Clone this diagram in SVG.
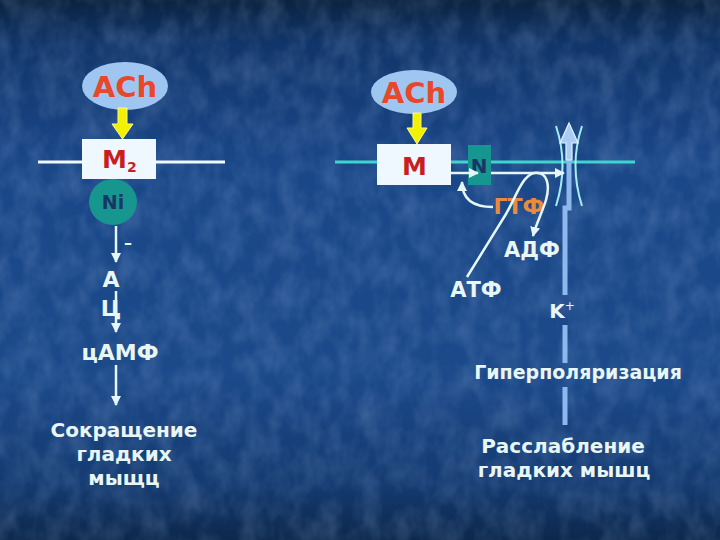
<svg xmlns="http://www.w3.org/2000/svg" width="720" height="540" viewBox="0 0 720 540">
<defs>
<linearGradient id="bg" x1="0" y1="0" x2="0" y2="1">
<stop offset="0" stop-color="#0a2340"/>
<stop offset="0.08" stop-color="#11356a"/>
<stop offset="0.3" stop-color="#1a4788"/>
<stop offset="0.7" stop-color="#1b4989"/>
<stop offset="0.9" stop-color="#143a70"/>
<stop offset="1" stop-color="#0c284c"/>
</linearGradient>
<filter id="tex" x="0" y="0" width="100%" height="100%">
<feTurbulence type="fractalNoise" baseFrequency="0.05 0.035" numOctaves="3" seed="7"/>
<feColorMatrix type="matrix" values="0 0 0 0 0.55  0 0 0 0 0.7  0 0 0 0 1  0 0 0 0.3 -0.1"/>
</filter>
<marker id="ah" viewBox="0 0 10 10" refX="9" refY="5" markerWidth="4" markerHeight="4" orient="auto" markerUnits="strokeWidth">
<path d="M0,0 L10,5 L0,10 z" fill="#e4f6f6"/>
</marker>
<style>
.t{font-family:"DejaVu Sans",sans-serif;font-weight:bold;fill:#e8f6f6;text-anchor:middle}
.ach{font-family:"DejaVu Sans",sans-serif;font-weight:bold;fill:#e8472a;font-size:29px;text-anchor:middle}
.m{font-family:"DejaVu Sans",sans-serif;font-weight:bold;fill:#c81e1e;font-size:25px}
.nav{font-family:"DejaVu Sans",sans-serif;font-weight:bold;fill:#1a3568;text-anchor:middle}
.ln{stroke:#e4f6f6;stroke-width:2.5;fill:none}
.ell{fill:#9fc6f0}
.box{fill:#f0f8ff}
.teal{fill:#17968f}
.yel{fill:#f2f200;stroke:#fafa90;stroke-width:1}
</style>
</defs>
<rect width="720" height="540" fill="url(#bg)"/>
<rect width="720" height="540" filter="url(#tex)"/>

<!-- membranes -->
<line x1="38" y1="162" x2="225" y2="162" stroke="#f0f8ff" stroke-width="3"/>
<line x1="335" y1="162" x2="635" y2="162" stroke="#40d4d0" stroke-width="3"/>

<!-- left side nodes -->
<g id="ach-left">
<ellipse class="ell" cx="125" cy="86" rx="43" ry="24"/>
<text class="ach" x="125" y="97">ACh</text>
</g>
<g id="m2">
<rect class="box" x="82" y="139" width="74" height="40"/>
<text class="m" x="102" y="168">M<tspan font-size="14" dy="4">2</tspan></text>
</g>
<g id="ni">
<ellipse class="teal" cx="113" cy="202" rx="24" ry="23"/>
<text class="nav" x="113" y="209" font-size="19">Ni</text>
</g>
<g id="ac">
<text class="t" x="111" y="287" font-size="22">А</text>
<text class="t" x="111" y="316" font-size="22">Ц</text>
</g>
<g id="camp"><text class="t" x="120" y="360" font-size="22">цАМФ</text></g>
<g id="contraction">
<text class="t" x="124" y="437" font-size="20">Сокращение</text>
<text class="t" x="124" y="461" font-size="20">гладких</text>
<text class="t" x="124" y="485" font-size="20">мыщц</text>
</g>
<text class="t" x="128" y="248" font-size="16">–</text>

<!-- right side nodes -->
<g id="ach-right">
<ellipse class="ell" cx="414" cy="92" rx="43" ry="22"/>
<text class="ach" x="414" y="103">ACh</text>
</g>
<g id="m">
<rect class="box" x="377" y="144" width="74" height="41"/>
<text class="m" x="402" y="175" font-size="24">M</text>
</g>
<g id="n">
<rect class="teal" x="468" y="145" width="23" height="40"/>
<text class="nav" x="479" y="173" font-size="20">N</text>
</g>
<g id="gtf"><text x="519" y="214" font-family="DejaVu Sans,sans-serif" font-weight="bold" font-size="22" fill="#ea8a3c" text-anchor="middle">ГТФ</text></g>
<g id="adf"><text class="t" x="532" y="257" font-size="21">АДФ</text></g>
<g id="atf"><text class="t" x="476" y="297" font-size="21">АТФ</text></g>
<g id="k"><text class="t" x="562" y="318" font-size="20">K<tspan font-size="12" dy="-8" font-weight="normal">+</tspan></text></g>
<g id="hyper"><text class="t" x="578" y="379" font-size="19">Гиперполяризация</text></g>
<g id="relax">
<text class="t" x="563" y="453" font-size="20">Расслабление</text>
<text class="t" x="564" y="477" font-size="20">гладких мышц</text>
</g>
<g id="channel">
<path d="M556,126 Q569,165 556,206" stroke="#a4ecf2" stroke-width="2" fill="none"/>
<path d="M582,126 Q569,165 582,206" stroke="#a4ecf2" stroke-width="2" fill="none"/>
</g>

<!-- connectors -->
<g id="connectors">
<path class="yel" d="M118,108 H127 V124 H133 L122.5,139 L112,124 H118 Z"/>
<path class="yel" d="M413,113 H421 V128 H427 L417,144 L407,128 H413 Z"/>
<line class="ln" x1="116" y1="226" x2="116" y2="262" marker-end="url(#ah)"/>
<line class="ln" x1="116" y1="291" x2="116" y2="332" marker-end="url(#ah)"/>
<line class="ln" x1="116" y1="365" x2="116" y2="405" marker-end="url(#ah)"/>
<line class="ln" stroke-width="3" x1="451" y1="173" x2="478" y2="173" marker-end="url(#ah)"/>
<line class="ln" stroke-width="3" x1="491" y1="173" x2="564" y2="173" marker-end="url(#ah)"/>
<path class="ln" stroke-width="3" d="M493,207 C472,207 462,199 462,182" marker-end="url(#ah)"/>
<path class="ln" stroke-width="3" d="M467,277 L506,214 C516,197 522,176 534,173 C548,171 550,186 546,200 C542,213 536,224 533,236" marker-end="url(#ah)"/>
<path d="M565,425 V387 M565,363 V325 M565,295 V208 H569 V142" stroke="#8cb8ee" stroke-width="5" fill="none"/>
<path d="M569,123 L578,143 H572 V160 H566 V143 H560 Z" fill="#a8ccf4" stroke="#e4f2ff" stroke-width="1.2"/>
</g>
</svg>
